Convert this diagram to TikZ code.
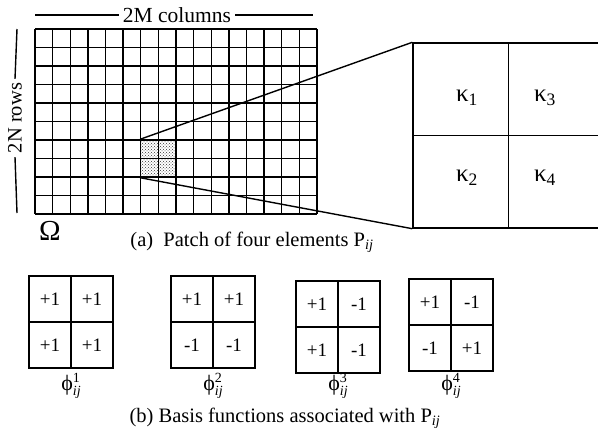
\documentclass[tikz,border=0pt]{standalone}
\usepackage{fontspec}
\setmainfont{Liberation Serif}
\usepackage{tikz}
\usetikzlibrary{patterns}
\newcommand{\phiij}[1]{ϕ\rlap{\raisebox{8pt}{\fontsize{14}{16}\selectfont #1}}\raisebox{-5pt}{\fontsize{14}{16}\selectfont\itshape ij}}

\begin{document}
\begin{tikzpicture}[x=1pt, y=-1pt, line width=1.4pt,
    every node/.style={font=\fontsize{20.5}{24}\selectfont},
    kcell/.style={draw, minimum width=95.5pt, minimum height=92.5pt, inner sep=0pt},
    klabel/.style={font=\fontsize{25}{28}\selectfont},
    bcell/.style={draw, minimum width=42pt, minimum height=46pt, inner sep=0pt, font=\fontsize{19}{21}\selectfont},
    philabel/.style={inner sep=0pt, font=\fontsize{22}{24}\selectfont},
    patch/.style={pattern=crosshatch dots, pattern color=black!80, minimum width=35.25pt, minimum height=37pt, inner sep=0pt}]
    \clip (0,0) rectangle (598,439);

    % patch P_ij and the grid Omega
    \node[patch] (pij) at (158.375,158.5) {};
    \foreach \i in {0,...,16}
      \draw (35+\i*17.625,29) -- (35+\i*17.625,214);
    \foreach \j in {0,...,10}
      \draw (35,29+\j*18.5) -- (317,29+\j*18.5);

    \node (ncols) at (177,15) {\fontsize{21.5}{24}\selectfont 2M columns};
    \draw (ncols.west) -- (35,15);
    \draw (ncols.east) -- (313,15);
    \node[rotate=90] (nrows) at (15,118) {2N rows};
    \draw (nrows.east) -- (17,29);
    \draw (nrows.west) -- (17,213);
    \node[font=\fontsize{29}{32}\selectfont] (omega) at (50,231) {Ω};
    \node (capa) at (252,242) {(a)\ \ Patch of four elements P\textsubscript{\textit{ij}}};

    % enlarged patch
    \node[kcell] (k1) at (460.75,89.25) {};
    \node[kcell] (k3) at (556.25,89.25) {};
    \node[kcell] (k2) at (460.75,181.75) {};
    \node[kcell] (k4) at (556.25,181.75) {};
    \node[klabel] (lk1) at (467,98) {κ\textsubscript{1}};
    \node[klabel] (lk3) at (545,98) {κ\textsubscript{3}};
    \node[klabel] (lk2) at (467,178) {κ\textsubscript{2}};
    \node[klabel] (lk4) at (545,178) {κ\textsubscript{4}};
    \draw (pij.north west) -- (k1.north west);
    \draw (pij.south west) -- (k2.south west);

    % basis functions
    \foreach \n/\x/\y/\a/\b/\c/\d in {1/71/322/+1/+1/+1/+1, 2/213/322/+1/+1/-1/-1,
        3/338/327/+1/-1/+1/-1, 4/451/325/+1/-1/-1/+1} {
      \node[bcell] (b\n a) at (\x-21,\y-23) {\a};
      \node[bcell] (b\n b) at (\x+21,\y-23) {\b};
      \node[bcell] (b\n c) at (\x-21,\y+23) {\c};
      \node[bcell] (b\n d) at (\x+21,\y+23) {\d};
      \node[philabel] (phi\n) at (\x,386) {\phiij{\n}};
    }
    \node[inner sep=0pt] (capb) at (285,418) {(b) Basis functions associated with P\textsubscript{\textit{ij}}};
\end{tikzpicture}
\end{document}
